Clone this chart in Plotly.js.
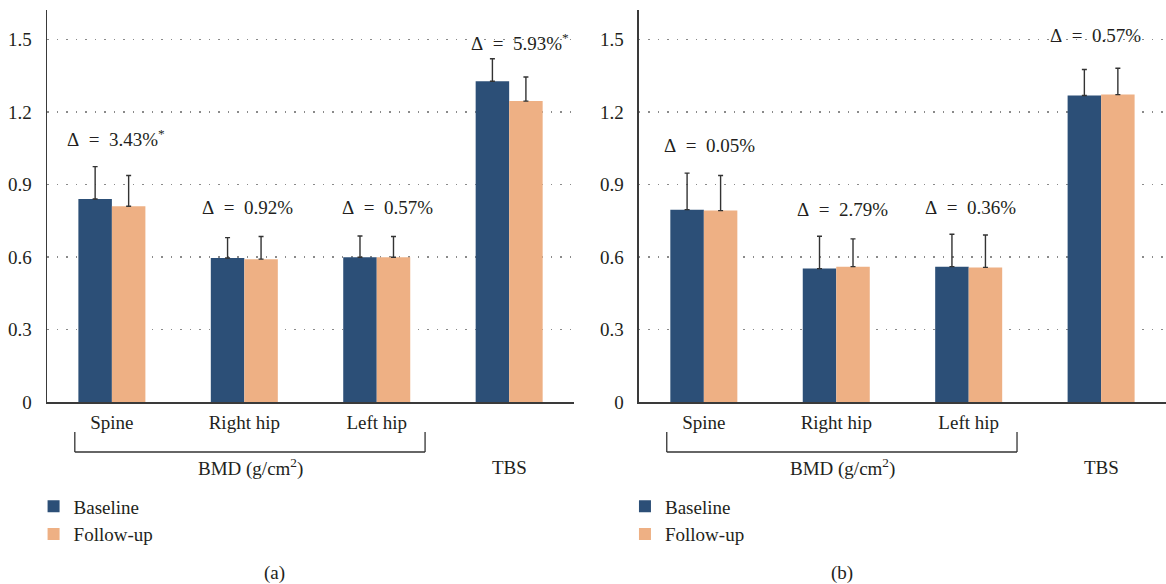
<!DOCTYPE html>
<html>
<head>
<meta charset="utf-8">
<script src="https://cdn.plot.ly/plotly-3.0.1.min.js"></script>
<style>html,body{margin:0;padding:0;background:#fff;}#chart{width:1166px;height:584px;}</style>
</head>
<body>
<div id="chart"></div>
<script>
// ---- data ----
const categories = ['Spine', 'Right hip', 'Left hip', 'TBS'];
const bmdSites = ['Spine', 'Right hip', 'Left hip'];
const seriesNames = ['Baseline', 'Follow-up'];
const yTickVals = [0, 0.3, 0.6, 0.9, 1.2, 1.5];
const yTickText = ['0', '0.3', '0.6', '0.9', '1.2', '1.5'];

const aBaseline = [0.840, 0.596, 0.599, 1.327];
const aBaselineErr = [0.134, 0.084, 0.088, 0.093];
const aFollow = [0.810, 0.591, 0.599, 1.245];
const aFollowErr = [0.127, 0.094, 0.086, 0.100];
const aDelta = ['Δ\u2002=\u20023.43%<sup>*</sup>', 'Δ\u2002=\u20020.92%', 'Δ\u2002=\u20020.57%', 'Δ\u2002=\u20025.93%<sup>*</sup>'];

const bBaseline = [0.796, 0.552, 0.560, 1.268];
const bBaselineErr = [0.151, 0.134, 0.134, 0.108];
const bFollow = [0.792, 0.560, 0.557, 1.272];
const bFollowErr = [0.145, 0.115, 0.134, 0.109];
const bDelta = ['Δ\u2002=\u20020.05%', 'Δ\u2002=\u20022.79%', 'Δ\u2002=\u20020.36%', 'Δ\u2002=\u20020.57%'];

const groupLabels = ['BMD (g/cm<sup>2</sup>)', 'TBS'];
const panelCaptions = ['(a)', '(b)'];

// ---- style / placement ----
const FONT = '"Liberation Serif", "DejaVu Serif", serif';
const TXT = '#231f20';
const C_BASE = '#2c4f77';
const C_FOLL = '#eeb084';
const aLabelY = [1.093, 0.803, 0.803, 1.49];
const aLabelShift = [-47, -44, -37, -40];
const bLabelY = [1.06, 0.795, 0.803, 1.515];
const bLabelShift = [-42, -41, -46, -53];

function errBar(arr) {
  return {type: 'data', symmetric: false, array: arr, arrayminus: arr.map(() => 0),
          color: '#333', thickness: 1.4, width: 2.5};
}
function bar(name, x, y, err, color, xa, ya, leg) {
  return {type: 'bar', name: name, x: x, y: y, xaxis: xa, yaxis: ya, legend: leg,
          marker: {color: color, line: {width: 0}}, error_y: errBar(err),
          hoverinfo: 'skip'};
}

const traces = [
  bar(seriesNames[0], categories, aBaseline, aBaselineErr, C_BASE, 'x', 'y', 'legend'),
  bar(seriesNames[1], categories, aFollow, aFollowErr, C_FOLL, 'x', 'y', 'legend'),
  bar(seriesNames[0], categories, bBaseline, bBaselineErr, C_BASE, 'x2', 'y2', 'legend2'),
  bar(seriesNames[1], categories, bFollow, bFollowErr, C_FOLL, 'x2', 'y2', 'legend2'),
];

function xax(domain, anchor) {
  return {domain: domain, anchor: anchor, type: 'category', range: [-0.49, 3.49],
          categoryorder: 'array', categoryarray: categories,
          tickvals: bmdSites, ticktext: bmdSites,
          showline: true, linecolor: '#3a3a3a', linewidth: 2, ticks: '',
          showgrid: false, zeroline: false, fixedrange: true,
          tickfont: {family: FONT, size: 19, color: TXT}, ticklabelstandoff: 2};
}
function yax(anchor) {
  return {anchor: anchor, range: [0, 1.622], tickvals: yTickVals, ticktext: yTickText,
          showline: true, linecolor: '#3a3a3a', linewidth: 1.5, ticks: '',
          showgrid: true, gridcolor: '#8a8a8a', gridwidth: 1.3, griddash: '1.5px,8px',
          zeroline: false, fixedrange: true, ticklabelstandoff: 10,
          tickfont: {family: FONT, size: 19, color: TXT}};
}

const annotations = [];
const shapes = [];
[[aDelta, aLabelY, aLabelShift, 'x', 'y'], [bDelta, bLabelY, bLabelShift, 'x2', 'y2']].forEach(function (p) {
  const [txt, ly, sh, xr, yr] = p;
  txt.forEach(function (t, i) {
    annotations.push({text: t, x: i, y: ly[i], xref: xr, yref: yr, xanchor: 'left', yanchor: 'middle',
                      xshift: sh[i], showarrow: false, font: {family: FONT, size: 19, color: TXT}});
  });
  annotations.push({text: groupLabels[0], x: 1.045, y: -0.168, xref: xr, yref: 'paper', showarrow: false,
                    xanchor: 'center', yanchor: 'middle', font: {family: FONT, size: 19, color: TXT}});
  annotations.push({text: groupLabels[1], x: 3, y: -0.168, xref: xr, yref: 'paper', showarrow: false,
                    xanchor: 'center', yanchor: 'middle', font: {family: FONT, size: 19, color: TXT}});
  const x0 = -0.28, x1 = 2.365, yt = -0.0765, yb = -0.1276;
  const ln = {color: '#333', width: 1.3};
  shapes.push({type: 'line', xref: xr, yref: 'paper', x0: x0, x1: x0, y0: yt, y1: yb, line: ln});
  shapes.push({type: 'line', xref: xr, yref: 'paper', x0: x0, x1: x1, y0: yb, y1: yb, line: ln});
  shapes.push({type: 'line', xref: xr, yref: 'paper', x0: x1, x1: x1, y0: yt, y1: yb, line: ln});
});
annotations.push({text: panelCaptions[0], x: 0.192, y: -0.436, xref: 'paper', yref: 'paper', showarrow: false,
                  yanchor: 'middle', font: {family: FONT, size: 19, color: TXT}});
annotations.push({text: panelCaptions[1], x: 0.722, y: -0.436, xref: 'paper', yref: 'paper', showarrow: false,
                  yanchor: 'middle', font: {family: FONT, size: 19, color: TXT}});

const legendStyle = {font: {family: FONT, size: 19, color: TXT}, bgcolor: 'rgba(0,0,0,0)',
                     orientation: 'v', xanchor: 'left', yanchor: 'top', itemclick: false,
                     tracegroupgap: 0, itemwidth: 30};

const layout = {
  width: 1166, height: 584,
  margin: {l: 47, r: 0, t: 10, b: 182},
  paper_bgcolor: '#fff', plot_bgcolor: '#fff',
  barmode: 'group', bargap: 0.494, bargroupgap: 0,
  xaxis: xax([0, 0.471], 'y'),
  yaxis: yax('x'),
  xaxis2: xax([0.529, 1], 'y2'),
  yaxis2: yax('x2'),
  legend: Object.assign({x: -0.012, y: -0.218}, legendStyle),
  legend2: Object.assign({x: 0.5165, y: -0.218}, legendStyle),
  annotations: annotations,
  shapes: shapes,
  font: {family: FONT, color: TXT},
};

Plotly.newPlot('chart', traces, layout, {displayModeBar: false, staticPlot: true});
</script>
</body>
</html>
